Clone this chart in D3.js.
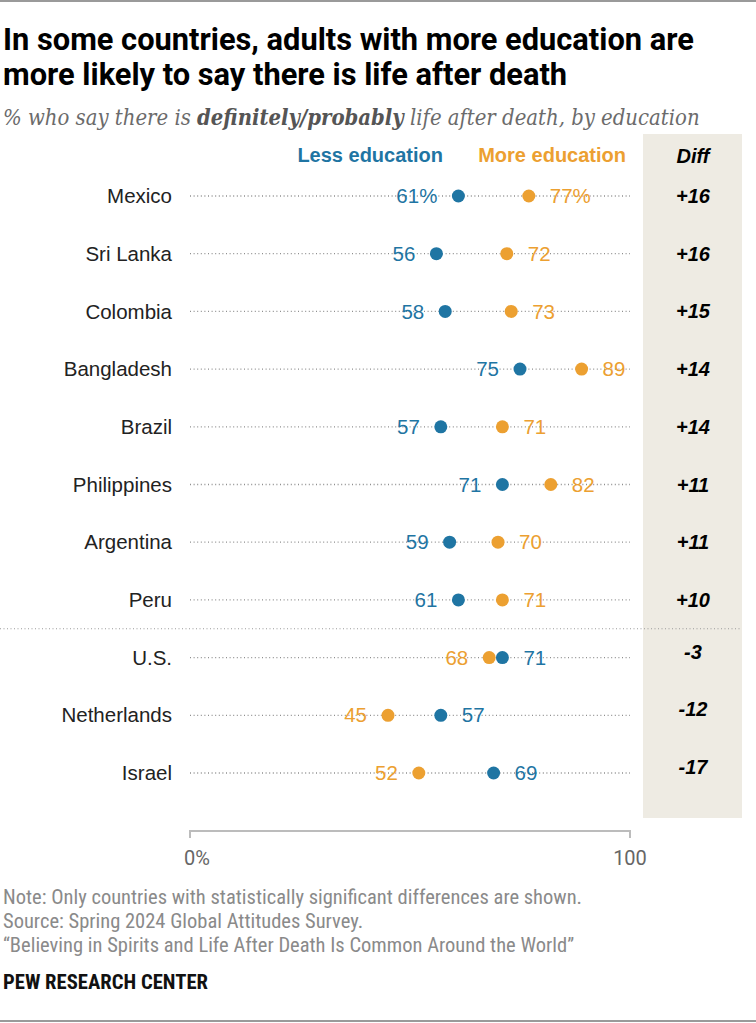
<!DOCTYPE html>
<html>
<head>
<meta charset="utf-8">
<script src="https://cdn.jsdelivr.net/npm/d3@7"></script>
<style>
  body { margin: 0; background: #fff; }
  svg { display: block; }
</style>
</head>
<body>
<div id="chart"></div>
<script>
// data
const countries = ["Mexico", "Sri Lanka", "Colombia", "Bangladesh", "Brazil", "Philippines",
    "Argentina", "Peru", "U.S.", "Netherlands", "Israel"];
const lessEducation = [61, 56, 58, 75, 57, 71, 59, 61, 71, 57, 69];
const moreEducation = [77, 72, 73, 89, 71, 82, 70, 71, 68, 45, 52];
const diffLabels = ["+16", "+16", "+15", "+14", "+14", "+11", "+11", "+10", "-3", "-12", "-17"];
const axisTicks = [0, 100];
const groupBreakAfter = "Peru";

const BLUE = "#1f75a3";
const ORANGE = "#eca031";
const condensed = "'Liberation Sans Narrow', 'Arial Narrow', 'Roboto Condensed', sans-serif";
const sans = "'Liberation Sans', Arial, sans-serif";

const W = 756, H = 1023;

const svg = d3.select("#chart").append("svg")
    .attr("width", W)
    .attr("height", H);

// shrink/grow font so a line lands on the given width
function fitWidth(sel, target) {
    let node = sel.node();
    let fs = parseFloat(sel.attr("font-size"));
    let w = node.getComputedTextLength();
    sel.attr("font-size", (fs * target / w).toFixed(2));
}

// frame lines
svg.append("line").attr("x1", 0).attr("x2", W).attr("y1", 1).attr("y2", 1)
    .attr("stroke", "#9a9a9a").attr("stroke-width", 2);
svg.append("line").attr("x1", 0).attr("x2", W).attr("y1", 1021).attr("y2", 1021)
    .attr("stroke", "#9a9a9a").attr("stroke-width", 2);

// title
let t1 = svg.append("text").attr("x", 3).attr("y", 50)
    .attr("font-family", "Roboto, 'Liberation Sans', sans-serif")
    .attr("font-weight", "bold").attr("font-size", 26)
    .attr("fill", "#000")
    .text("In some countries, adults with more education are");
fitWidth(t1, 691);
let t2 = svg.append("text").attr("x", 3).attr("y", 85)
    .attr("font-family", "Roboto, 'Liberation Sans', sans-serif")
    .attr("font-weight", "bold").attr("font-size", t1.attr("font-size"))
    .attr("fill", "#000")
    .text("more likely to say there is life after death");

// subtitle
let sub = svg.append("text").attr("x", 3).attr("y", 125)
    .attr("font-family", "'DejaVu Serif Condensed', 'Liberation Serif', serif")
    .attr("font-style", "italic").attr("font-size", 19).attr("fill", "#6b6b6b");
sub.append("tspan").text("% who say there is ");
sub.append("tspan").attr("font-weight", "bold").attr("fill", "#555").text("definitely/probably");
sub.append("tspan").text(" life after death, by education");
fitWidth(sub, 697);

// scales
const x = d3.scaleLinear().domain([0, 100]).range([190, 630]);
const y = d3.scalePoint().domain(countries).range([196, 773]);

// diff column background
svg.append("rect")
    .attr("x", 643).attr("y", 134)
    .attr("width", 99).attr("height", 684)
    .attr("fill", "#eeebe3");

// legend header
svg.append("text").attr("x", 443).attr("y", 162)
    .attr("text-anchor", "end")
    .attr("font-family", sans).attr("font-weight", "bold").attr("font-size", 20)
    .attr("fill", BLUE).text("Less education");
svg.append("text").attr("x", 626).attr("y", 162)
    .attr("text-anchor", "end")
    .attr("font-family", sans).attr("font-weight", "bold").attr("font-size", 20)
    .attr("fill", ORANGE).text("More education");
svg.append("text").attr("x", 693).attr("y", 163)
    .attr("text-anchor", "middle")
    .attr("font-family", sans).attr("font-weight", "bold").attr("font-style", "italic")
    .attr("font-size", 20).attr("fill", "#000").text("Diff");

// separator between groups
let breakY = (y(groupBreakAfter) + y(countries[countries.indexOf(groupBreakAfter) + 1])) / 2;
svg.append("line")
    .attr("x1", 0).attr("x2", 742)
    .attr("y1", breakY).attr("y2", breakY)
    .attr("stroke", "#9a9a9a").attr("stroke-width", 1.2)
    .attr("stroke-dasharray", "1,2.5");

const rowData = countries.map((c, i) => ({
    country: c,
    less: lessEducation[i],
    more: moreEducation[i],
    diff: diffLabels[i],
    first: i === 0
}));

const rows = svg.selectAll(".row")
    .data(rowData)
    .enter().append("g")
    .attr("class", "row")
    .attr("transform", d => `translate(0,${y(d.country)})`);

// country names
rows.append("text")
    .attr("x", 172).attr("dy", "0.35em")
    .attr("text-anchor", "end")
    .attr("font-family", sans).attr("font-size", 20.5)
    .attr("fill", "#222")
    .text(d => d.country);

// dotted track
rows.append("line")
    .attr("x1", x(0)).attr("x2", x(100))
    .attr("stroke", "#8f8f8f").attr("stroke-width", 1.3)
    .attr("stroke-dasharray", "1,2.6");

// diff values (the lower group sits a touch higher in the original)
rows.append("text")
    .attr("x", 693).attr("dy", "0.35em")
    .attr("y", (d, i) => i > 7 ? -6 : 0)
    .attr("text-anchor", "middle")
    .attr("font-family", sans).attr("font-weight", "bold").attr("font-style", "italic")
    .attr("font-size", 20).attr("fill", "#000")
    .text(d => d.diff);

// value labels with white knockout behind them
rows.each(function(d) {
    let g = d3.select(this);
    let pts = [
        {v: d.less, color: BLUE},
        {v: d.more, color: ORANGE}
    ].sort((a, b) => a.v - b.v);

    pts.forEach((p, k) => {
        let left = k === 0;
        let lbl = p.v + (d.first ? "%" : "");
        let txt = g.append("text")
            .attr("x", x(p.v) + (left ? -21 : 21))
            .attr("dy", "0.35em")
            .attr("text-anchor", left ? "end" : "start")
            .attr("font-family", sans).attr("font-size", 20.5)
            .attr("fill", p.color)
            .text(lbl);
        let bb = txt.node().getBBox();
        g.insert("rect", "text")
            .attr("x", left ? bb.x - 14 : bb.x - 6)
            .attr("y", -8)
            .attr("width", bb.width + 20)
            .attr("height", 16)
            .attr("fill", "#fff");
    });

    // dots on top
    [{v: d.more, color: ORANGE}, {v: d.less, color: BLUE}].forEach(p => {
        g.append("circle")
            .attr("cx", x(p.v))
            .attr("r", 6.5)
            .attr("fill", p.color);
    });
});

// bottom axis
svg.append("path")
    .attr("d", `M${x(0)},838V831H${x(100)}V838`)
    .attr("fill", "none")
    .attr("stroke", "#bcbcbc")
    .attr("stroke-width", 2);

svg.selectAll(".tick-label")
    .data(axisTicks)
    .enter().append("text")
    .attr("class", "tick-label")
    .attr("x", d => d === 0 ? x(d) - 6 : x(d))
    .attr("y", 865)
    .attr("text-anchor", d => d === 0 ? "start" : "middle")
    .attr("font-family", "Roboto, sans-serif").attr("font-size", 20)
    .attr("fill", "#666")
    .text(d => d === 0 ? "0%" : d);

// footer
const notes = [
    "Note: Only countries with statistically significant differences are shown.",
    "Source: Spring 2024 Global Attitudes Survey.",
    "\u201cBelieving in Spirits and Life After Death Is Common Around the World\u201d"
];
let noteSel = svg.selectAll(".note")
    .data(notes)
    .enter().append("text")
    .attr("class", "note")
    .attr("x", 3)
    .attr("y", (d, i) => 904 + i * 24)
    .attr("font-family", condensed).attr("font-size", 16)
    .attr("fill", "#8a8a8a")
    .text(d => d);
fitWidth(d3.select(noteSel.nodes()[0]), 579);
noteSel.attr("font-size", d3.select(noteSel.nodes()[0]).attr("font-size"));

let pew = svg.append("text").attr("x", 3).attr("y", 989)
    .attr("font-family", condensed).attr("font-weight", "bold").attr("font-size", 17)
    .attr("fill", "#111")
    .text("PEW RESEARCH CENTER");
fitWidth(pew, 205);
</script>
</body>
</html>
